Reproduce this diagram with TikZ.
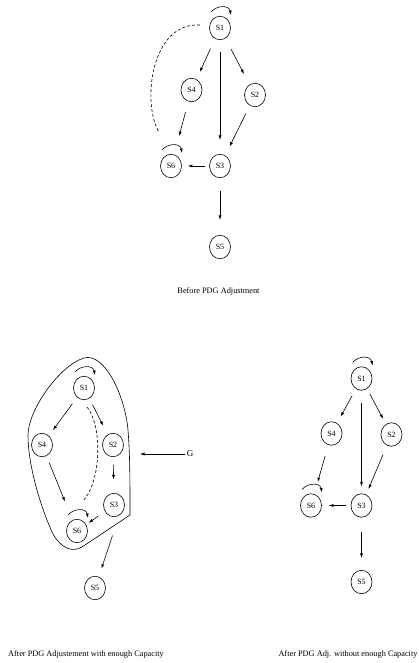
\documentclass[tikz,border=0pt]{standalone}
\usepackage{fontspec}
\setmainfont{Liberation Serif}
\usetikzlibrary{shapes.geometric,arrows.meta,calc}
\newcommand\myloop[1]{\draw[arr] ($(#1)+(-9,-16)$) .. controls ($(#1)+(-3,-23)$) and ($(#1)+(9,-23)$) .. ($(#1)+(11,-13)$);}
\begin{document}
\begin{tikzpicture}[x=1pt,y=-1pt,line width=0.6pt,
  st/.style={ellipse,draw,minimum width=21pt,minimum height=23.5pt,inner sep=0pt,font=\fontsize{8}{9}\selectfont},
  arr/.style={-{Latex[length=4.5pt,width=3pt]}},
  dsh/.style={dash pattern=on 3pt off 2pt},
  captxt/.style={font=\fontsize{8.3}{10}\selectfont,inner sep=0pt}]
\useasboundingbox (0,0) rectangle (418,663);
% ---------- top: before
\node[st] (a1) at (220,28) {S1};
\node[st] (a4) at (191.5,90) {S4};
\node[st] (a2) at (255,95) {S2};
\node[st] (a6) at (171,166) {S6};
\node[st] (a3) at (220,166) {S3};
\node[st] (a5) at (220,247) {S5};
\draw[arr,shorten <=11pt,shorten >=8pt] (a1) -- (a4);
\draw[arr,shorten <=12pt,shorten >=14pt] (a1) -- (a3);
\draw[arr,shorten <=12pt,shorten >=12pt] (a1) -- (a2);
\draw[arr,shorten <=11pt,shorten >=19pt] (a4) -- (a6);
\draw[arr,shorten <=9pt,shorten >=10pt] (a2) -- (a3);
\draw[arr,shorten <=4pt,shorten >=6pt] (a3) -- (a6);
\draw[arr,shorten <=13pt,shorten >=15pt] (a3) -- (a5);
\coordinate (da) at ($(a1)+(-20,-3)$);
\coordinate (db) at ($(a6)+(-12,-34)$);
\draw[dsh] (da) .. controls ($(da)+(-50,-3)$) and ($(db)+(-17,-27)$) .. (db);
\myloop{a1}
\myloop{a6}
\node[captxt] (capa) at (218.5,291) {Before PDG Adjustment};
% ---------- bottom left: with enough capacity
\node[st] (b1) at (84,388) {S1};
\node[st] (b4) at (42,445) {S4};
\node[st] (b2) at (113,445) {S2};
\node[st] (b3) at (114,505) {S3};
\node[st] (b6) at (77,531) {S6};
\node[st] (b5) at (95,588) {S5};
\draw (130,515) -- (82,547)
  .. controls (72,553) and (60,548) .. (52,532)
  .. controls (40,505) and (28,465) .. (28,435)
  .. controls (28,410) and (60,365) .. (84,358)
  .. controls (104,352) and (125,395) .. (128,430)
  .. controls (130,455) and (130,480) .. cycle;
\draw[arr,shorten <=8pt,shorten >=7pt] (b1) -- (b4);
\draw[arr,shorten <=7pt,shorten >=10pt] (b1) -- (b2);
\draw[arr,shorten <=7.5pt,shorten >=13.5pt] (b2) -- (b3);
\draw[arr,shorten <=7pt,shorten >=20pt] (b4) -- (b6);
\draw[arr,shorten <=8pt,shorten >=3pt] (b3) -- (b6);
\coordinate (gout) at (112.5,535.5);
\draw[arr,shorten >=8.5pt] (gout) -- (b5);
\coordinate (dc) at ($(b1)+(3,19)$);
\coordinate (dd) at ($(b6)+(6,-30)$);
\draw[dsh] (dc) .. controls ($(dc)+(15,18)$) and ($(dd)+(19,-21)$) .. (dd);
\myloop{b1}
\myloop{b6}
\node[font=\fontsize{9}{10}\selectfont,inner sep=1pt] (G) at (190,454) {G};
\coordinate (gin) at (140,454);
\draw[arr] (G) -- (gin);
\node[captxt] (capb) at (86,654) {After PDG Adjustement with enough Capacity};
% ---------- bottom right: without enough capacity
\node[st] (c1) at (361.5,378.5) {S1};
\node[st] (c4) at (331.5,433.5) {S4};
\node[st] (c2) at (391.5,434.5) {S2};
\node[st] (c6) at (311,505.5) {S6};
\node[st] (c3) at (361.5,505.5) {S3};
\node[st] (c5) at (361.5,582) {S5};
\draw[arr,shorten <=8pt,shorten >=7.5pt] (c1) -- (c4);
\draw[arr,shorten <=12pt,shorten >=7pt] (c1) -- (c3);
\draw[arr,shorten <=6pt,shorten >=6pt] (c1) -- (c2);
\draw[arr,shorten <=11.5pt,shorten >=12.5pt] (c4) -- (c6);
\draw[arr,shorten <=10pt,shorten >=6pt] (c2) -- (c3);
\draw[arr,shorten <=5pt,shorten >=7pt] (c3) -- (c6);
\draw[arr,shorten <=14.5pt,shorten >=12pt] (c3) -- (c5);
\myloop{c1}
\myloop{c6}
\node[captxt] (capc) at (348,654) {After PDG Adj. without enough Capacity};
\end{tikzpicture}
\end{document}
